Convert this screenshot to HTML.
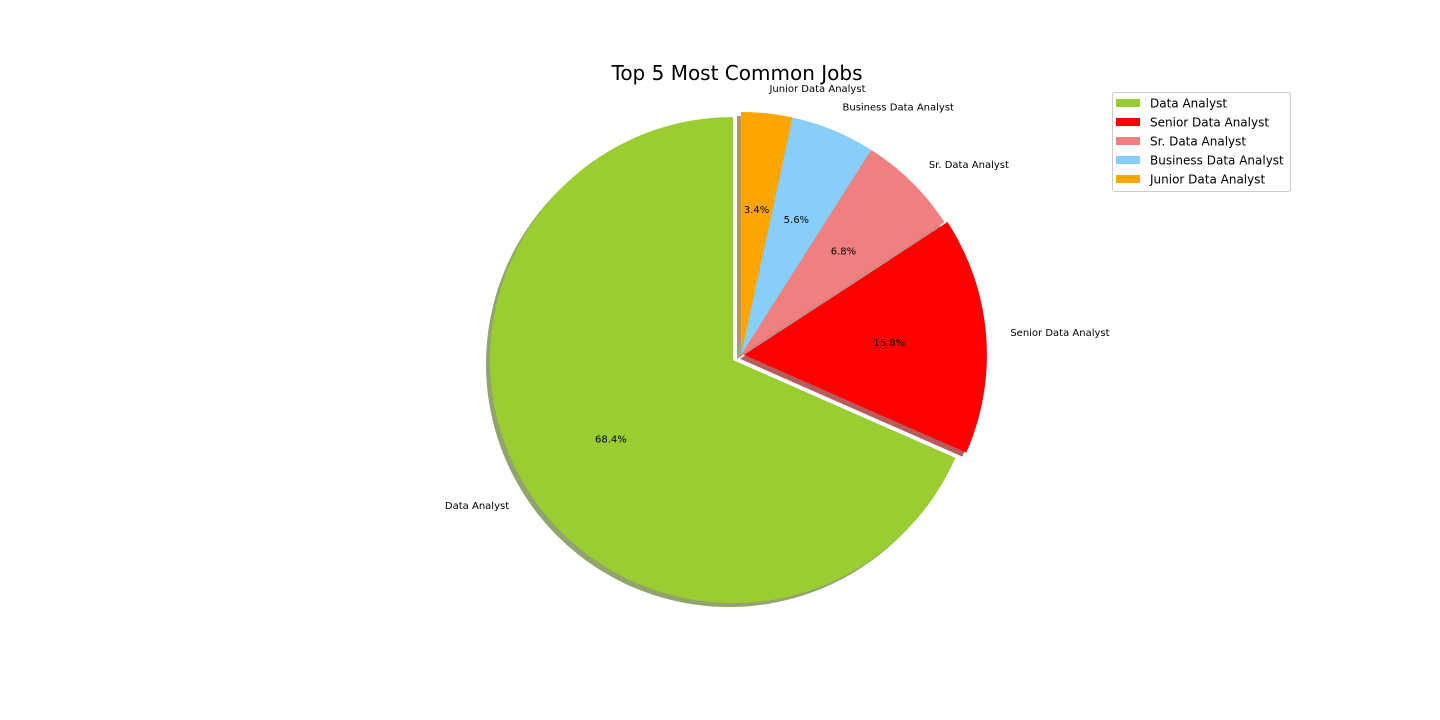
<!DOCTYPE html>
<html><head><meta charset="utf-8"><style>
html,body{margin:0;padding:0;background:#fff;width:1440px;height:720px;overflow:hidden}
svg text{font-family:"DejaVu Sans","Liberation Sans",sans-serif}
</style></head><body>
<svg id="chart" width="1440" height="720" viewBox="0 0 1440 720" xmlns="http://www.w3.org/2000/svg">
<text x="737" y="80" font-size="20" text-anchor="middle">Top 5 Most Common Jobs</text>
<g id="shadows"></g><g id="slices"></g><g id="labels"></g>
<g>
<rect x="1112.5" y="92.5" width="178" height="99" rx="2" fill="#fff" stroke="#ccc"/>
<g id="legend-items"></g>
</g>
</svg>
<script>
const categories=["Data Analyst","Senior Data Analyst","Sr. Data Analyst","Business Data Analyst","Junior Data Analyst"];
const values=[68.4,15.8,6.8,5.6,3.4];
const pctLabels=["68.4%","15.8%","6.8%","5.6%","3.4%"];
const colors=["#9acd32","#ff0000","#f08080","#87cefa","#ffa500"];
const explode=[0,0.012,0,0,0];
const NS="http://www.w3.org/2000/svg";
const base={x:733,y:360},R=243;
const total=values.reduce((a,b)=>a+b,0);
function mk(t,a){const e=document.createElementNS(NS,t);for(const k in a)e.setAttribute(k,a[k]);return e;}
function dark(c){const n=parseInt(c.slice(1),16);const r=(n>>16)&255,g=(n>>8)&255,b=n&255;return `rgb(${Math.round(r*0.35+92)},${Math.round(g*0.35+92)},${Math.round(b*0.35+92)})`;}
let ang=90;
const sh=document.getElementById('shadows'),sl=document.getElementById('slices'),lb=document.getElementById('labels');
values.forEach((v,i)=>{
  const a0=ang,a1=ang+v/total*360;ang=a1;
  const mid=(a0+a1)/2*Math.PI/180;
  let cx=base.x+(i===0?0:8),cy=base.y-(i===0?0:5);
  cx+=explode[i]*R*Math.cos(mid);cy-=explode[i]*R*Math.sin(mid);
  const p=(a)=>[cx+R*Math.cos(a*Math.PI/180),cy-R*Math.sin(a*Math.PI/180)];
  const s=p(a0),e=p(a1),large=(a1-a0)>180?1:0;
  const d=`M${cx},${cy}L${s[0]},${s[1]}A${R},${R} 0 ${large} 0 ${e[0]},${e[1]}Z`;
  const shp=mk('path',{d:d,fill:dark(colors[i]),transform:'translate(-4,4)'});
  
  
  sh.appendChild(shp);
  const path=mk('path',{d:d,fill:colors[i]});
  
  
  sl.appendChild(path);
  const c=Math.cos(mid),sn=Math.sin(mid);
  const t=mk('text',{x:cx+1.1*R*c,y:cy-1.1*R*sn+3,'font-size':'10','text-anchor':c<0?'end':'start'});
  t.textContent=categories[i];
  
  
  lb.appendChild(t);
  const pt=mk('text',{x:cx+0.6*R*c,y:cy-0.6*R*sn+3,'font-size':'10','text-anchor':'middle'});
  pt.textContent=pctLabels[i];
  
  
  lb.appendChild(pt);
});
const lg=document.getElementById('legend-items');
categories.forEach((c,i)=>{
  const y=103+i*19;
  const r=mk('rect',{x:1116,y:y-4,width:24,height:8,fill:colors[i]});
  
  
  lg.appendChild(r);
  const t=mk('text',{x:1150,y:y+4.5,'font-size':'12'});
  t.textContent=c;
  
  
  lg.appendChild(t);
});
</script>
</body></html>
